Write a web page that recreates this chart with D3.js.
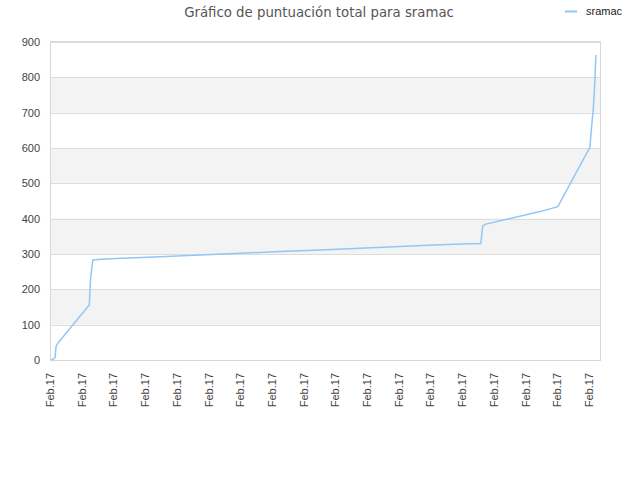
<!DOCTYPE html>
<html>
<head>
<meta charset="utf-8">
<script src="https://cdn.jsdelivr.net/npm/d3@7"></script>
<style>
  html, body { margin: 0; padding: 0; background: #fff; }
  svg { display: block; }
</style>
</head>
<body>
<div id="chart"></div>
<script>
// Datos (x en unidades de marca del eje, y = puntuación)
const TITLE = 'Gráfico de puntuación total para sramac';
const SERIES_NAME = 'sramac';
const tickLabels = ['Feb.17', 'Feb.17', 'Feb.17', 'Feb.17', 'Feb.17', 'Feb.17',
  'Feb.17', 'Feb.17', 'Feb.17', 'Feb.17', 'Feb.17', 'Feb.17',
  'Feb.17', 'Feb.17', 'Feb.17', 'Feb.17', 'Feb.17', 'Feb.17'];
const yTicks = [0, 100, 200, 300, 400, 500, 600, 700, 800, 900];
const xPos = [0.03, 0.09, 0.13, 0.16, 0.19, 0.26, 1.24, 1.28, 1.35, 1.74, 2.46, 3.47,
  4.73, 5.99, 7.26, 8.52, 9.78, 11.04, 12.30, 13.25, 13.59, 13.65, 13.72,
  15.46, 16.02, 17.03, 17.09, 17.14, 17.19, 17.22];
const scores = [0, 2, 5, 7, 38, 49, 156, 230, 283, 286, 289, 292,
  297, 302, 307, 311, 316, 321, 326, 329, 330, 379, 384,
  420, 434, 602, 665, 712, 792, 863];

const W = 640, H = 480;
const margin = { top: 42, right: 40, bottom: 120, left: 50 };

const svg = d3.select('#chart').append('svg')
  .attr('width', W).attr('height', H)
  .style('font-family', '"Liberation Sans", Arial, sans-serif');

const x = d3.scaleLinear().domain([0, 17.35]).range([margin.left, W - margin.right]);
const y = d3.scaleLinear().domain([0, 900]).range([H - margin.bottom, margin.top]);

// Bandas alternas
const bands = yTicks.slice(0, -1).filter((d, i) => i % 2 === 1);
svg.append('g').selectAll('rect').data(bands).enter().append('rect')
  .attr('x', x(0)).attr('width', x.range()[1] - x(0))
  .attr('y', d => y(d + 100)).attr('height', d => y(d) - y(d + 100))
  .attr('fill', '#f3f3f3');

// Rejilla
svg.append('g').selectAll('line').data(yTicks).enter().append('line')
  .attr('x1', x(0)).attr('x2', x.range()[1])
  .attr('y1', d => Math.round(y(d)) + 0.5).attr('y2', d => Math.round(y(d)) + 0.5)
  .attr('stroke', '#dddddd');

// Marco
svg.append('rect')
  .attr('x', x(0) + 0.5).attr('y', Math.round(y(900)) - 0.5)
  .attr('width', x.range()[1] - x(0)).attr('height', y(0) - y(900) + 1)
  .attr('fill', 'none').attr('stroke', '#d8d8d8');

// Eje Y
svg.append('g').selectAll('text').data(yTicks).enter().append('text')
  .attr('x', x(0) - 10).attr('y', d => y(d)).attr('dy', '0.35em')
  .attr('text-anchor', 'end').attr('font-size', 11).attr('fill', '#444')
  .text(d => d);

// Eje X
svg.append('g').selectAll('text').data(tickLabels).enter().append('text')
  .attr('transform', (d, i) => `translate(${x(i) + 4},${y(0) + 13}) rotate(-90)`)
  .attr('text-anchor', 'end').attr('font-size', 11).attr('fill', '#444')
  .text(d => d);

// Serie
const pts = xPos.map((v, i) => [v, scores[i]]);
svg.append('path').datum(pts)
  .attr('d', d3.line().x(d => x(d[0])).y(d => y(d[1])))
  .attr('fill', 'none').attr('stroke', '#94c6f4').attr('stroke-width', 1.5);

// Título
svg.append('text').attr('x', 319).attr('y', 17)
  .attr('text-anchor', 'middle').attr('font-size', 13.3).attr('fill', '#555')
  .style('font-family', '"DejaVu Sans", sans-serif')
  .text(TITLE);

// Leyenda
svg.append('line').attr('x1', 565).attr('x2', 577).attr('y1', 11.5).attr('y2', 11.5)
  .attr('stroke', '#94c6f4').attr('stroke-width', 2);
svg.append('text').attr('x', 586).attr('y', 11).attr('dy', '0.35em')
  .attr('font-size', 11).attr('fill', '#222').text(SERIES_NAME);
</script>
</body>
</html>
